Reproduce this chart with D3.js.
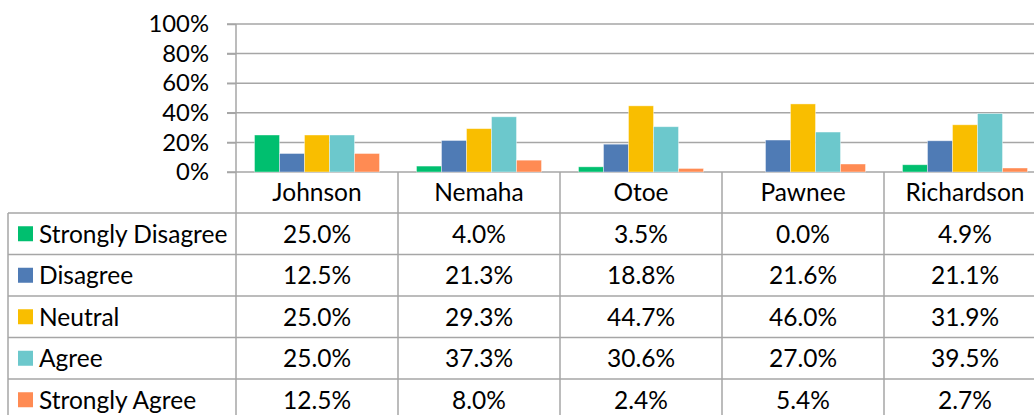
<!DOCTYPE html>
<html>
<head>
<meta charset="utf-8">
<script src="https://cdn.jsdelivr.net/npm/d3@7"></script>
<style>
  body { margin: 0; background: #fff; }
  svg text { font-family: Lato, "Noto Sans", sans-serif; fill: #000; }
</style>
</head>
<body>
<div id="chart"></div>
<script>
const counties = ["Johnson", "Nemaha", "Otoe", "Pawnee", "Richardson"];
const seriesNames = ["Strongly Disagree", "Disagree", "Neutral", "Agree", "Strongly Agree"];
const seriesColors = ["#00bf6f", "#4f7bb5", "#f9be00", "#6cc8cc", "#ff8b53"];
const stronglyDisagree = [0.250, 0.040, 0.035, 0.000, 0.049];
const disagree = [0.125, 0.213, 0.188, 0.216, 0.211];
const neutral = [0.250, 0.293, 0.447, 0.460, 0.319];
const agree = [0.250, 0.373, 0.306, 0.270, 0.395];
const stronglyAgree = [0.125, 0.080, 0.024, 0.054, 0.027];
const yTicks = [0, 0.2, 0.4, 0.6, 0.8, 1.0];

const seriesValues = [stronglyDisagree, disagree, neutral, agree, stronglyAgree];

const W = 1034, H = 415;
const plotTop = 24, plotBottom = 172, plotLeft = 236, plotRight = 1046;
const tableLeft = 8, headerH = 41, rowH = 41.5;
const gridColor = "#a6a6a6";
const tableFont = "24.5px";

const svg = d3.select("#chart").append("svg")
    .attr("width", W)
    .attr("height", H);

// scales
const x = d3.scaleBand()
    .domain(counties)
    .range([plotLeft, plotRight])
    .padding(0);
const x1 = d3.scaleBand()
    .domain(seriesNames)
    .range([18.5, x.bandwidth() - 18.5])
    .padding(0);
const y = d3.scaleLinear()
    .domain([0, 1])
    .range([plotBottom, plotTop]);

// gridlines
svg.append("g")
    .selectAll("line")
    .data(yTicks)
    .enter().append("line")
    .attr("x1", plotLeft - 9)
    .attr("x2", plotRight)
    .attr("y1", d => y(d))
    .attr("y2", d => y(d))
    .attr("stroke", gridColor)
    .attr("stroke-width", 1.5);

// y axis
const yAxis = svg.append("g")
    .attr("transform", `translate(${plotLeft},0)`)
    .call(d3.axisLeft(y).tickValues(yTicks).tickFormat(d3.format(".0%")).tickSize(9).tickPadding(18));
yAxis.select(".domain").remove();
yAxis.selectAll(".tick line").attr("stroke", gridColor).attr("stroke-width", 1.5);
yAxis.selectAll("text").style("font-size", "23.8px").attr("fill", "#000");

// bars
const groups = svg.append("g")
    .selectAll("g")
    .data(counties)
    .enter().append("g")
    .attr("transform", d => `translate(${x(d)},0)`);

groups.selectAll("rect")
    .data((c, ci) => seriesNames.map((s, si) => ({ s: s, si: si, v: seriesValues[si][ci] })))
    .enter().append("rect")
    .attr("x", d => x1(d.s))
    .attr("width", x1.bandwidth())
    .attr("y", d => y(d.v))
    .attr("height", d => y(0) - y(d.v))
    .attr("fill", d => seriesColors[d.si])
    .attr("stroke", "rgba(255,255,255,0.5)")
    .attr("stroke-width", 0.8);

// data table
const table = svg.append("g");
const rowTop = i => plotBottom + headerH + i * rowH;

// horizontal rules
table.selectAll(".hrule")
    .data(d3.range(seriesNames.length))
    .enter().append("line")
    .attr("x1", tableLeft)
    .attr("x2", plotRight)
    .attr("y1", i => rowTop(i))
    .attr("y2", i => rowTop(i))
    .attr("stroke", gridColor)
    .attr("stroke-width", 1.5);

// vertical rules
table.append("line")
    .attr("x1", tableLeft).attr("x2", tableLeft)
    .attr("y1", rowTop(0)).attr("y2", H)
    .attr("stroke", gridColor).attr("stroke-width", 1.5);
table.append("line")
    .attr("x1", plotLeft).attr("x2", plotLeft)
    .attr("y1", plotTop).attr("y2", H)
    .attr("stroke", gridColor).attr("stroke-width", 1.5);
table.selectAll(".vrule")
    .data(counties.slice(1))
    .enter().append("line")
    .attr("x1", d => x(d)).attr("x2", d => x(d))
    .attr("y1", plotBottom).attr("y2", H)
    .attr("stroke", gridColor).attr("stroke-width", 1.5);

// header labels
table.selectAll(".head")
    .data(counties)
    .enter().append("text")
    .attr("x", d => x(d) + x.bandwidth() / 2)
    .attr("y", plotBottom + headerH / 2)
    .attr("dy", "0.36em")
    .attr("text-anchor", "middle")
    .style("font-size", tableFont)
    .text(d => d);

// legend column
const legendRows = table.selectAll(".leg")
    .data(seriesNames)
    .enter().append("g")
    .attr("transform", (d, i) => `translate(0,${rowTop(i) + rowH / 2})`);
legendRows.append("rect")
    .attr("x", 18).attr("y", -7.5)
    .attr("width", 15).attr("height", 15)
    .attr("fill", (d, i) => seriesColors[i]);
legendRows.append("text")
    .attr("x", 39)
    .attr("dy", "0.36em")
    .style("font-size", tableFont)
    .text(d => d);

// values
const fmt = d3.format(".1%");
seriesNames.forEach((s, si) => {
    table.selectAll(".val" + si)
        .data(counties)
        .enter().append("text")
        .attr("x", d => x(d) + x.bandwidth() / 2)
        .attr("y", rowTop(si) + rowH / 2)
        .attr("dy", "0.36em")
        .attr("text-anchor", "middle")
        .style("font-size", tableFont)
        .text((d, ci) => fmt(seriesValues[si][ci]));
});
</script>
</body>
</html>
